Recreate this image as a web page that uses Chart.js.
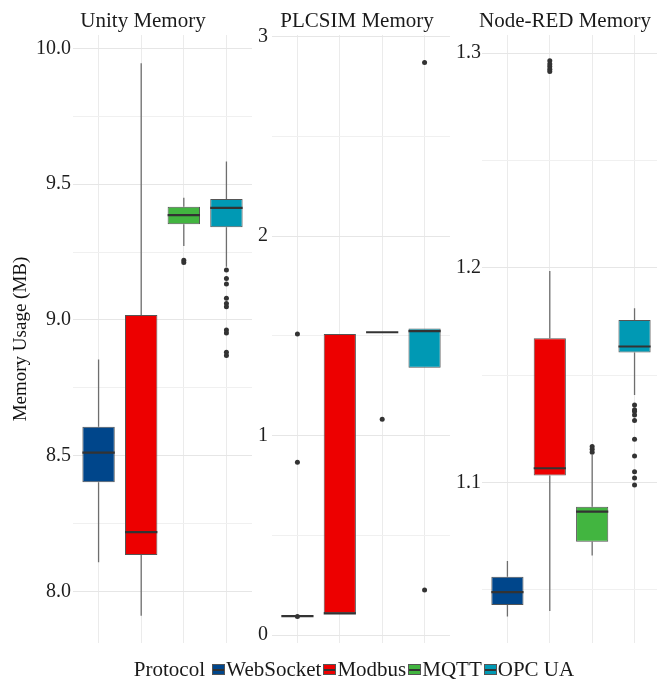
<!DOCTYPE html>
<html><head><meta charset="utf-8">
<script src="https://cdn.jsdelivr.net/npm/chart.js@4.4.1/dist/chart.umd.min.js"></script>
<style>
html,body{margin:0;padding:0;background:#fff;}
#wrap{position:relative;width:657px;height:684px;overflow:hidden;background:#fff;font-family:'Liberation Serif','Times New Roman',serif;}
canvas{position:absolute;top:0;}
.ptitle{position:absolute;top:10px;width:220px;text-align:center;font-size:21px;line-height:21px;color:#1a1a1a;white-space:nowrap;}
#legend{position:absolute;left:54px;width:600px;top:659px;text-align:center;font-size:21px;line-height:21px;white-space:nowrap;color:#1a1a1a;}
.key{display:inline-block;position:relative;width:13px;height:11px;border:1px solid #555;box-sizing:border-box;vertical-align:1px;margin:0 1px 0 2px;}
.key i{position:absolute;left:0;right:0;top:3.5px;height:2px;background:#333;}
</style></head>
<body>
<div id="wrap">
  <canvas id="c1" width="256" height="684" style="left:0px"></canvas>
  <canvas id="c2" width="202" height="684" style="left:252px"></canvas>
  <canvas id="c3" width="211" height="684" style="left:450px"></canvas>
  <div class="ptitle" id="t1" style="left:33px"></div>
  <div class="ptitle" id="t2" style="left:247px"></div>
  <div class="ptitle" id="t3" style="left:455px"></div>
  <div id="legend"></div>
</div>
<script>
// ---------- categories / labels ----------
const protocols = ['WebSocket', 'Modbus', 'MQTT', 'OPC UA'];
const protocolColors = ['#00468B', '#ED0000', '#42B540', '#0099B4'];
const panelTitles = ['Unity Memory', 'PLCSIM Memory', 'Node-RED Memory'];
const yAxisTitle = 'Memory Usage (MB)';
const legendTitle = 'Protocol';

// ---------- Unity Memory ----------
const unityLo  = [8.108, 7.911, 9.272, 9.196];
const unityQ1  = [8.403, 8.135, 9.352, 9.341];
const unityMed = [8.512, 8.219, 9.386, 9.413];
const unityQ3  = [8.607, 9.018, 9.417, 9.445];
const unityHi  = [8.855, 9.945, 9.450, 9.583];
const unityOutliers = [
  [],
  [],
  [9.220, 9.212],
  [9.184, 9.153, 9.132, 9.080, 9.061, 9.049, 8.963, 8.952, 8.881, 8.869]
];
const unityTicks = [8.0, 8.5, 9.0, 9.5, 10.0];
const unityMinor = [8.25, 8.75, 9.25, 9.75];

// ---------- PLCSIM Memory ----------
const plcLo  = [0.095, 0.109, 1.518, 1.340];
const plcQ1  = [0.095, 0.109, 1.518, 1.340];
const plcMed = [0.095, 0.109, 1.518, 1.524];
const plcQ3  = [0.095, 1.509, 1.518, 1.537];
const plcHi  = [0.095, 1.509, 1.518, 1.537];
const plcOutliers = [
  [1.509, 0.866, 0.093],
  [],
  [1.082],
  [2.870, 0.226]
];
const plcTicks = [0, 1, 2, 3];
const plcMinor = [0.5, 1.5, 2.5];

// ---------- Node-RED Memory ----------
const nodeLo  = [1.0376, 1.0402, 1.0660, 1.1408];
const nodeQ1  = [1.0430, 1.1033, 1.0725, 1.1606];
const nodeMed = [1.0490, 1.1067, 1.0865, 1.1634];
const nodeQ3  = [1.0562, 1.1673, 1.0888, 1.1758];
const nodeHi  = [1.0635, 1.1986, 1.1129, 1.1812];
const nodeOutliers = [
  [],
  [1.2965, 1.2950, 1.2938, 1.2925, 1.2915],
  [1.1168, 1.1155, 1.1142],
  [1.1362, 1.1340, 1.1331, 1.1315, 1.1289, 1.1202, 1.1124, 1.1051, 1.1021, 1.0989]
];
const nodeTicks = [1.1, 1.2, 1.3];
const nodeMinor = [1.05, 1.15, 1.25];

// ---------- drawing ----------
Chart.defaults.font.family = "'Liberation Serif','Times New Roman',serif";
Chart.defaults.color = '#333';

function makePanel(id, p) {
  const boxPlugin = {
    id: 'boxParts_' + id,
    beforeDatasetsDraw(chart) {
      const meta = chart.getDatasetMeta(1);
      const y = chart.scales.y, ctx = chart.ctx;
      ctx.save();
      ctx.strokeStyle = '#6e6e6e';
      ctx.lineWidth = 1.3;
      meta.data.forEach((bar, i) => {
        const x = bar.x;
        ctx.beginPath();
        ctx.moveTo(x, y.getPixelForValue(p.hi[i]));
        ctx.lineTo(x, y.getPixelForValue(p.q3[i]));
        ctx.moveTo(x, y.getPixelForValue(p.q1[i]));
        ctx.lineTo(x, y.getPixelForValue(p.lo[i]));
        ctx.stroke();
      });
      ctx.restore();
    },
    afterDatasetsDraw(chart) {
      const meta = chart.getDatasetMeta(1);
      const y = chart.scales.y, ctx = chart.ctx;
      ctx.save();
      ctx.strokeStyle = '#333';
      ctx.lineWidth = 2.2;
      meta.data.forEach((bar, i) => {
        const yy = y.getPixelForValue(p.med[i]);
        ctx.beginPath();
        ctx.moveTo(bar.x - bar.width / 2, yy);
        ctx.lineTo(bar.x + bar.width / 2, yy);
        ctx.stroke();
      });
      ctx.restore();
    }
  };
  const majors = p.ticks;
  const allTicks = majors.concat(p.minor).filter(v => v >= p.yMin && v <= p.yMax).sort((a, b) => a - b);
  const points = p.outliers.flatMap((arr, i) => arr.map(v => ({x: i + 1, y: v})));
  const boxes = p.q1.map((v, i) => ({x: i + 1, y: [p.q1[i], p.q3[i]]}));
  return new Chart(document.getElementById(id), {
    type: 'bar',
    data: {
      datasets: [
        {
          type: 'scatter', data: points, order: 0,
          pointRadius: 2.5, pointBackgroundColor: '#333', pointBorderWidth: 0, showLine: false
        },
        {
          type: 'bar', data: boxes, order: 1,
          backgroundColor: protocolColors, borderColor: '#555', borderWidth: 1,
          borderSkipped: false, barPercentage: 0.76, categoryPercentage: 1
        }
      ]
    },
    options: {
      responsive: false, animation: false, devicePixelRatio: 1,
      layout: {padding: {left: 0, right: 0, top: 35, bottom: 41}},
      plugins: {legend: {display: false}, tooltip: {enabled: false}},
      scales: {
        x: {
          type: 'linear', min: 0.4, max: p.xMax, offset: false,
          afterBuildTicks: s => { s.ticks = protocols.map((_, i) => ({value: i + 1})); },
          ticks: {display: false},
          grid: {color: '#ebebeb', lineWidth: 1, drawTicks: false, offset: false},
          border: {display: false}
        },
        y: {
          type: 'linear', min: p.yMin, max: p.yMax,
          afterBuildTicks: s => { s.ticks = allTicks.map(v => ({value: v})); },
          afterFit: s => { s.width = p.axisWidth; },
          ticks: {
            padding: p.tickPad, color: '#1e1e1e', font: {size: 20},
            callback: v => majors.some(m => Math.abs(m - v) < 1e-9) ? v.toFixed(p.decimals) : ''
          },
          grid: {
            drawTicks: false,
            color: c => majors.some(m => Math.abs(m - c.tick.value) < 1e-9) ? '#e6e6e6' : '#f0f0f0',
            lineWidth: 1
          },
          border: {display: false},
          title: p.title ? {display: true, text: p.title, color: '#111', font: {size: 19}, padding: {top: 10, bottom: 0}} : {display: false}
        }
      }
    },
    plugins: [boxPlugin]
  });
}

makePanel('c1', {lo: unityLo, q1: unityQ1, med: unityMed, q3: unityQ3, hi: unityHi, outliers: unityOutliers,
  ticks: unityTicks, minor: unityMinor, yMin: 7.811, yMax: 10.049, decimals: 1, xMax: 4.6,
  axisWidth: 73, tickPad: 2, title: yAxisTitle});
makePanel('c2', {lo: plcLo, q1: plcQ1, med: plcMed, q3: plcQ3, hi: plcHi, outliers: plcOutliers,
  ticks: plcTicks, minor: plcMinor, yMin: -0.040, yMax: 3.0085, decimals: 0, xMax: 4.6,
  axisWidth: 20, tickPad: 4, title: null});
makePanel('c3', {lo: nodeLo, q1: nodeQ1, med: nodeMed, q3: nodeQ3, hi: nodeHi, outliers: nodeOutliers,
  ticks: nodeTicks, minor: nodeMinor, yMin: 1.0253, yMax: 1.3085, decimals: 1, xMax: 4.53,
  axisWidth: 32, tickPad: 1, title: null});

// titles
['t1', 't2', 't3'].forEach((id, i) => { document.getElementById(id).textContent = panelTitles[i]; });

// legend
const lg = document.getElementById('legend');
lg.appendChild(document.createTextNode(legendTitle + ' '));
protocols.forEach((name, i) => {
  const k = document.createElement('span');
  k.className = 'key';
  k.style.background = protocolColors[i];
  k.appendChild(document.createElement('i'));
  lg.appendChild(k);
  lg.appendChild(document.createTextNode(name));
});
</script>
</body></html>
